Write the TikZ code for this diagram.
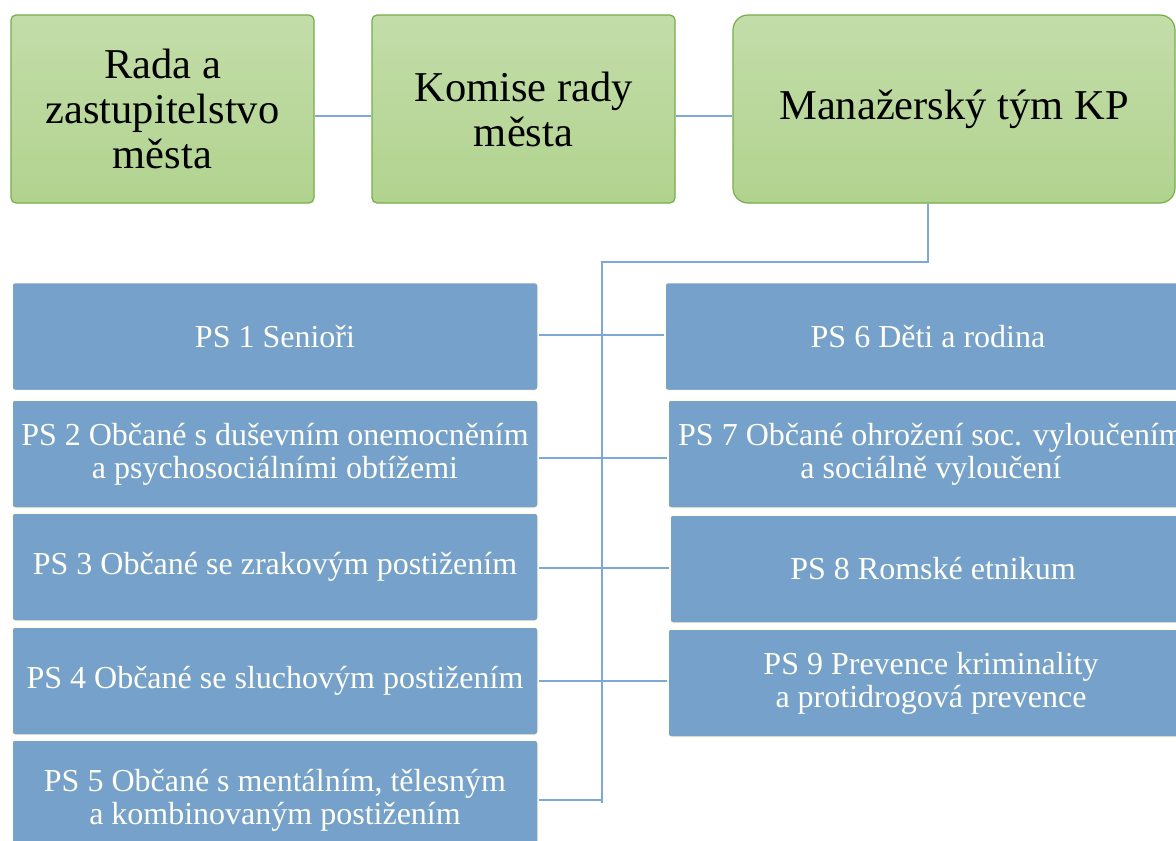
\documentclass[tikz,border=0pt]{standalone}
\usepackage{fontspec}
\setmainfont{Liberation Serif}
\definecolor{gtop}{HTML}{C3DDA9}
\definecolor{gbot}{HTML}{B1D38F}
\definecolor{gline}{HTML}{76AD49}
\definecolor{bfill}{HTML}{75A1CB}
\definecolor{bline}{HTML}{FFFCE8}
\definecolor{connc}{HTML}{7FA8D9}
\definecolor{btext}{HTML}{FFFFF2}
\begin{document}
\begin{tikzpicture}[x=1pt,y=-1pt,
  gbox/.style={draw=gline, line width=1.2pt, top color=gtop, bottom color=gbot,
    rounded corners=5pt, minimum height=188pt, inner sep=0pt, align=center,
    font=\fontsize{42.5}{45}\selectfont, text=black},
  pbox/.style={draw=bline, line width=1.5pt, fill=bfill, rounded corners=3pt,
    minimum width=526pt, minimum height=108pt, inner sep=0pt, align=center,
    font=\fontsize{32}{33}\selectfont, text=btext},
  link/.style={draw=connc, line width=1.3pt}]
\useasboundingbox (0,0) rectangle (1176,841);
\clip (0,0) rectangle (1176,841);

\node[gbox, minimum width=303pt] (g1) at (162.5,109) {Rada a\\zastupitelstvo\\města};
\node[gbox, minimum width=303pt] (g2) at (523.5,109) {Komise rady\\města};
\node[gbox, minimum width=442pt, rounded corners=15pt] (g3) at (954,109) {Manažerský tým KP};

\node[pbox] (ps1) at (275,336.5) {PS 1 Senioři};
\node[pbox] (ps2) at (275,454) {PS 2 Občané s duševním onemocněním\\a psychosociálními obtížemi};
\node[pbox] (ps3) at (275,567) {PS 3 Občané se zrakovým postižením};
\node[pbox] (ps4) at (275,681) {PS 4 Občané se sluchovým postižením};
\node[pbox, minimum height=120pt] (ps5) at (275,800) {PS 5 Občané s mentálním, tělesným\\a kombinovaným postižením};

\node[pbox] (ps6) at (928,336.5) {PS 6 Děti a rodina};
\node[pbox] (ps7) at (931,454) {PS 7 Občané ohrožení soc. vyloučením\\a sociálně vyloučení};
\node[pbox] (ps8) at (933,569) {PS 8 Romské etnikum};
\node[pbox] (ps9) at (931,683) {PS 9 Prevence kriminality\\a protidrogová prevence};

\coordinate (t1) at (928,262);
\coordinate (t2) at (602,262);
\coordinate (t3) at (602,803);

\draw[link] ([yshift=-7pt]g1.east) -- ([yshift=-7pt]g1.east -| g2.west);
\draw[link] ([yshift=-7pt]g2.east) -- ([yshift=-7pt]g2.east -| g3.west);
\draw[link] ([xshift=-26pt]g3.south) -- (t1) -- (t2) -- (t3);
\draw[link] ([yshift=1.5pt]ps1.east) -- ([yshift=1.5pt]ps1.east -| ps6.west);
\draw[link] ([yshift=-4pt]ps2.east) -- ([yshift=-4pt]ps2.east -| ps7.west);
\draw[link] ([yshift=-1pt]ps3.east) -- ([yshift=-1pt]ps3.east -| ps8.west);
\draw[link] (ps4.east) -- (ps4.east -| ps9.west);
\draw[link] (ps5.east) -- (ps5.east -| t3);
\end{tikzpicture}
\end{document}
